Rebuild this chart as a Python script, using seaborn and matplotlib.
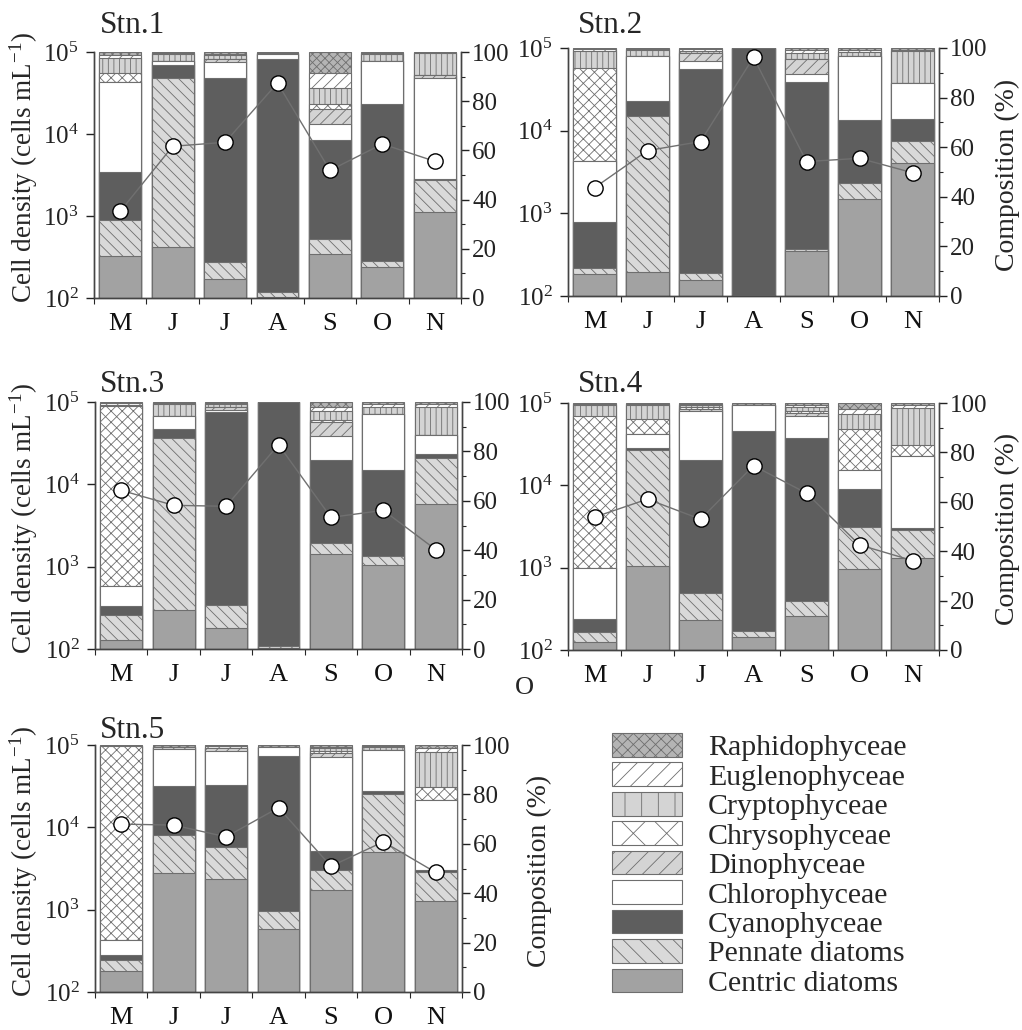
import numpy as np
import matplotlib
matplotlib.use("Agg")
import matplotlib.pyplot as plt
from matplotlib.patches import Patch
from matplotlib.ticker import FixedLocator, MultipleLocator, NullFormatter
import seaborn as sns

sns.set_style("ticks")
plt.rcParams["font.family"] = ["Liberation Serif", "DejaVu Serif"]
plt.rcParams["mathtext.fontset"] = "custom"
plt.rcParams["mathtext.rm"] = "Liberation Serif"
plt.rcParams["mathtext.it"] = "Liberation Serif:italic"
plt.rcParams["hatch.linewidth"] = 0.6

# ---------------------------------------------------------------- data
months = ["May", "Jun", "Jul", "Aug", "Sep", "Oct", "Nov"]
month_labels = ["M", "J", "J", "A", "S", "O", "N"]

# stacking order, bottom to top
groups = ["Centric diatoms", "Pennate diatoms", "Cyanophyceae", "Chlorophyceae",
          "Dinophyceae", "Chrysophyceae", "Cryptophyceae", "Euglenophyceae",
          "Raphidophyceae"]

# composition (%) per month, columns follow `groups`
stn1_comp = [
    [17.2, 14.6, 19.3, 36.7, 0.0, 3.7, 6.1, 1.2, 1.2],
    [20.7, 68.7, 5.2, 1.9, 0.0, 0.0, 2.5, 0.5, 0.5],
    [7.7, 6.8, 74.9, 6.5, 1.3, 0.0, 1.4, 0.7, 0.7],
    [0.5, 1.8, 94.9, 2.0, 0.0, 0.0, 0.4, 0.0, 0.4],
    [17.9, 6.2, 40.0, 6.8, 6.1, 1.9, 6.5, 6.1, 8.5],
    [12.5, 2.4, 64.0, 17.6, 0.0, 0.0, 2.7, 0.4, 0.4],
    [34.8, 13.3, 0.3, 41.0, 1.4, 0.0, 8.8, 0.0, 0.4],
]
stn2_comp = [
    [8.8, 2.3, 18.8, 24.5, 0.0, 37.5, 6.8, 0.7, 0.6],
    [9.7, 62.9, 6.2, 18.1, 0.0, 0.0, 2.2, 0.4, 0.5],
    [6.3, 3.0, 82.3, 3.0, 3.4, 0.0, 0.8, 0.6, 0.6],
    [0.0, 0.3, 99.7, 0.0, 0.0, 0.0, 0.0, 0.0, 0.0],
    [18.2, 0.9, 67.0, 3.5, 5.9, 0.0, 2.5, 1.0, 1.0],
    [39.1, 6.3, 25.4, 26.1, 0.0, 0.0, 1.5, 0.8, 0.8],
    [53.8, 8.9, 8.7, 14.4, 0.0, 0.0, 12.9, 0.6, 0.7],
]
stn3_comp = [
    [3.5, 10.4, 3.4, 8.1, 0.0, 72.8, 0.6, 0.6, 0.6],
    [15.7, 69.7, 3.8, 5.0, 0.0, 0.0, 5.1, 0.3, 0.4],
    [8.5, 9.2, 78.3, 0.9, 1.0, 0.0, 1.1, 0.5, 0.5],
    [0.3, 1.0, 98.7, 0.0, 0.0, 0.0, 0.0, 0.0, 0.0],
    [38.6, 4.3, 33.8, 9.7, 5.5, 1.0, 3.3, 1.9, 1.9],
    [34.1, 3.4, 35.1, 22.5, 0.0, 0.0, 2.9, 1.0, 1.0],
    [58.7, 18.6, 1.6, 7.9, 0.0, 0.0, 11.2, 1.0, 1.0],
]
stn4_comp = [
    [3.4, 3.8, 5.2, 20.7, 0.0, 61.5, 4.7, 0.3, 0.4],
    [34.2, 46.6, 1.0, 5.8, 0.0, 5.9, 5.8, 0.3, 0.4],
    [12.2, 10.8, 53.8, 19.8, 1.0, 0.8, 0.6, 0.5, 0.5],
    [5.1, 2.6, 80.8, 10.8, 0.0, 0.0, 0.0, 0.0, 0.7],
    [13.8, 6.2, 65.8, 8.8, 1.5, 0.8, 1.5, 0.8, 0.8],
    [32.8, 16.9, 15.4, 7.9, 0.0, 16.5, 6.0, 2.2, 2.3],
    [37.2, 11.4, 0.7, 29.1, 0.0, 4.7, 14.9, 1.0, 1.0],
]
stn5_comp = [
    [8.5, 4.6, 1.8, 6.3, 0.0, 78.4, 0.0, 0.0, 0.4],
    [48.2, 15.3, 19.9, 15.0, 0.8, 0.0, 0.0, 0.0, 0.8],
    [45.7, 13.1, 25.0, 13.8, 1.2, 0.0, 0.0, 0.6, 0.6],
    [25.7, 7.1, 62.7, 3.6, 0.0, 0.0, 0.0, 0.0, 0.9],
    [41.2, 8.1, 7.9, 37.8, 1.8, 0.6, 1.2, 0.6, 0.8],
    [56.5, 23.5, 1.4, 16.6, 0.0, 0.0, 1.2, 0.4, 0.4],
    [36.9, 11.7, 0.7, 28.4, 0.0, 5.4, 14.2, 1.4, 1.3],
]

# total cell density (cells mL-1)
stn1_density = [1140, 7080, 7925, 41900, 3600, 7550, 4650]
stn2_density = [2040, 5740, 7380, 77000, 4230, 4630, 3100]
stn3_density = [8450, 5560, 5410, 30300, 3970, 4830, 1610]
stn4_density = [4110, 6800, 3880, 17300, 8040, 1890, 1220]
stn5_density = [10950, 10640, 7670, 17300, 3370, 6670, 2830]

stations = ["Stn.1", "Stn.2", "Stn.3", "Stn.4", "Stn.5"]
compositions = [stn1_comp, stn2_comp, stn3_comp, stn4_comp, stn5_comp]
densities = [stn1_density, stn2_density, stn3_density, stn4_density, stn5_density]

# ---------------------------------------------------------------- styles
EDGE = "#6e6e6e"
styles = {
    "Centric diatoms": dict(fc="#a2a2a2", hatch=None, lh=None),
    "Pennate diatoms": dict(fc="#d9d9d9", hatch="\\\\\\", lh="\\\\"),
    "Cyanophyceae":    dict(fc="#5e5e5e", hatch=None, lh=None),
    "Chlorophyceae":   dict(fc="#ffffff", hatch=None, lh=None),
    "Dinophyceae":     dict(fc="#d4d4d4", hatch="///", lh="//"),
    "Chrysophyceae":   dict(fc="#ffffff", hatch="xxx", lh="x"),
    "Cryptophyceae":   dict(fc="#d4d4d4", hatch="|||", lh="|"),
    "Euglenophyceae":  dict(fc="#ffffff", hatch="///", lh="//"),
    "Raphidophyceae":  dict(fc="#b4b4b4", hatch="xxxx", lh="xxx"),
}

W, H = 1022, 1030
# panel frames in pixels: left, right, top, bottom
frames = [(94, 461, 52, 298), (568, 939, 48, 296),
          (95, 462, 402, 649), (568, 939, 403, 650),
          (95, 462, 745, 992)]
title_offsets = [(6, 19), (10, 15), (5, 10), (10, 11), (5, 7)]
# pixel x of the rotated axis labels (None = no label)
left_label_x = [40, None, 40, None, 40]
right_label_x = [None, 995, None, 995, 527]

fig = plt.figure(figsize=(W / 100, H / 100), dpi=100)

xpos = np.arange(len(months))

for k in range(5):
    l, r, t, b = frames[k]
    ax = fig.add_axes([l / W, 1 - b / H, (r - l) / W, (b - t) / H])
    comp = np.array(compositions[k]).T          # groups x months
    cum = np.cumsum(comp, axis=0)

    # stacked bars: draw the tallest cumulative layer first, then overlay
    for g in range(len(groups) - 1, -1, -1):
        st = styles[groups[g]]
        kw = dict(hatch=st["hatch"]) if st["hatch"] else {}
        sns.barplot(x=months, y=cum[g], order=months, ax=ax, color=st["fc"],
                    saturation=1, edgecolor=EDGE, linewidth=0.8, width=0.8,
                    errorbar=None, **kw)

    ax_d = ax.twinx()
    sns.lineplot(x=xpos, y=densities[k], ax=ax_d, sort=False, estimator=None,
                 color="#707070", linewidth=1.0, marker="o", markersize=11,
                 markerfacecolor="white", markeredgecolor="black",
                 markeredgewidth=1.0, zorder=5)

    # composition axis on the right
    ax.set_ylim(0, 100)
    ax.set_xlim(-0.5, 6.5)
    ax.yaxis.tick_right()
    ax.yaxis.set_label_position("right")
    ax.yaxis.set_major_locator(MultipleLocator(20))
    ax.yaxis.set_minor_locator(MultipleLocator(10))
    ax.tick_params(axis="y", which="major", length=6, width=1, pad=2,
                   labelsize=18, colors="#222222")
    ax.tick_params(axis="y", which="minor", length=3, width=0.8)
    ax.set_xticks(xpos)
    ax.set_xticklabels(month_labels)
    ax.xaxis.set_minor_locator(FixedLocator(np.arange(-0.5, 7, 1.0)))
    ax.tick_params(axis="x", which="major", length=0, pad=11, labelsize=19,
                   colors="#111111")
    ax.tick_params(axis="x", which="minor", length=4, width=0.8)
    ax.set_xlabel("")
    ax.set_ylabel("")
    if right_label_x[k] is not None:
        ax.set_ylabel("Composition (%)", fontsize=20)
        ax.yaxis.set_label_coords(1.0 + (right_label_x[k] - r) / (r - l), 0.49)

    # density axis on the left
    ax_d.set_yscale("log")
    ax_d.set_ylim(1e2, 1e5)
    ax_d.set_xlim(-0.5, 6.5)
    ax_d.yaxis.tick_left()
    ax_d.yaxis.set_label_position("left")
    ax_d.set_yticks([1e2, 1e3, 1e4, 1e5])
    ax_d.set_yticklabels([r"$\mathdefault{10^{2}}$", r"$\mathdefault{10^{3}}$",
                          r"$\mathdefault{10^{4}}$", r"$\mathdefault{10^{5}}$"])
    ax_d.yaxis.set_minor_formatter(NullFormatter())
    ax_d.tick_params(axis="y", which="minor", length=0)
    ax_d.tick_params(axis="y", which="major", length=6, width=1, pad=5,
                     labelsize=18, colors="#222222")
    ax_d.set_ylabel("")
    if left_label_x[k] is not None:
        ax_d.set_ylabel(r"Cell density (cells mL$^{-1}$)", fontsize=19.5)
        ax_d.yaxis.set_label_coords((left_label_x[k] - l) / (r - l), 0.53)

    for a in (ax, ax_d):
        a.spines["top"].set_visible(False)
        for s in ("left", "right", "bottom"):
            a.spines[s].set_color("#444444")
            a.spines[s].set_linewidth(1.0)

    dx, dy = title_offsets[k]
    ax.annotate(stations[k], xy=(0, 1), xycoords="axes fraction",
                xytext=(dx, dy), textcoords="offset pixels",
                fontsize=22.5, ha="left", va="baseline")

fig.text(524 / W, 1 - 688 / H, "O", fontsize=19, ha="center", va="center")

handles = []
for g in reversed(groups):
    st = styles[g]
    handles.append(Patch(facecolor=st["fc"], edgecolor=EDGE, linewidth=0.8,
                         hatch=st["lh"], label=g))
fs = 21.5
px = fs * 100 / 72
fig.legend(handles=handles, loc="upper left",
           bbox_to_anchor=(612 / W, 1 - 733 / H), frameon=False,
           fontsize=fs, borderpad=0, borderaxespad=0,
           handlelength=70 / px, handleheight=25 / px,
           handletextpad=26 / px, labelspacing=0.045)

fig.savefig("out.png", dpi=100)
